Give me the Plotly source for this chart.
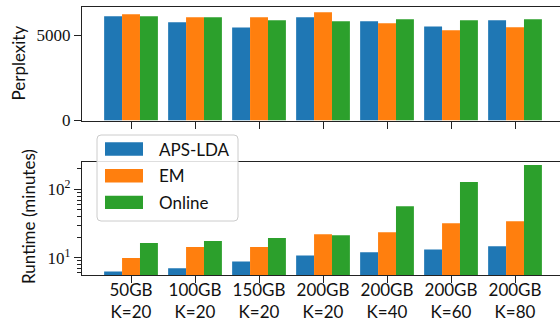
import plotly.graph_objects as go

categories = ["50GB<br>K=20", "100GB<br>K=20", "150GB<br>K=20", "200GB<br>K=20",
              "200GB<br>K=40", "200GB<br>K=60", "200GB<br>K=80"]
series_names = ["APS-LDA", "EM", "Online"]
perplexity_aps = [6120, 5770, 5460, 6070, 5830, 5530, 5890]
perplexity_em = [6240, 6070, 6070, 6360, 5710, 5300, 5480]
perplexity_online = [6120, 6070, 5890, 5830, 5950, 5890, 5950]
runtime_aps = [6.3, 7.0, 8.8, 10.8, 12.0, 13.2, 14.7]
runtime_em = [9.9, 14.3, 14.3, 22.0, 23.6, 31.9, 34.2]
runtime_online = [16.4, 17.5, 19.4, 21.3, 56.8, 128, 228]
colors = ["#1f77b4", "#ff7f0e", "#2ca02c"]

W, H = 560, 324
ML, MR, MT, MB = 82, 0, 7, 49
PW, PH = W - ML - MR, H - MT - MB

def px_x(p):
    return (p - ML) / PW

def px_y(p):
    return (H - MB - p) / PH

SANS = "Lato"
SERIF = "Liberation Serif"
FS = 17
xs = list(range(len(categories)))

fig = go.Figure()
for name, vals, c in zip(series_names, [perplexity_aps, perplexity_em, perplexity_online], colors):
    fig.add_trace(go.Bar(x=xs, y=vals, name=name, marker=dict(color=c, line=dict(width=0)),
                         xaxis="x", yaxis="y", showlegend=False))
for name, vals, c in zip(series_names, [runtime_aps, runtime_em, runtime_online], colors):
    fig.add_trace(go.Bar(x=xs, y=vals, name=name, marker=dict(color=c, line=dict(width=0)),
                         xaxis="x2", yaxis="y2", showlegend=False))

xr = [-0.766, -0.766 + PW / 64.0]
axis_common = dict(showline=True, linecolor="#222", linewidth=1.3, ticks="outside",
                   ticklen=7, tickwidth=1.2, tickcolor="#222", showgrid=False, zeroline=False,
                   automargin=False)

fig.update_layout(
    width=W, height=H, margin=dict(l=ML, r=MR, t=MT, b=MB, autoexpand=False),
    paper_bgcolor="white", plot_bgcolor="white",
    barmode="group", bargap=0.16, bargroupgap=0,
    font=dict(family=SANS, size=FS, color="#111"),
    xaxis=dict(domain=[0, 1], range=xr, anchor="y", tickvals=xs, showticklabels=False,
               mirror=True, **axis_common),
    yaxis=dict(domain=[px_y(120.5), 1.0], range=[0, 6670], anchor="x",
               tickvals=[0, 5000], ticktext=["0", "5000"],
               tickfont=dict(family=SERIF, size=17, color="#111"), **axis_common),
    xaxis2=dict(domain=[0, 1], range=xr, anchor="y2", tickvals=xs, ticktext=categories,
                mirror=True, ticklabelstandoff=-8,
                tickfont=dict(family=SANS, size=FS, color="#111"), **axis_common),
    yaxis2=dict(domain=[0, px_y(161.7)], type="log", range=[0.747, 2.406], anchor="x2",
                tickvals=[10, 100], ticktext=["10<sup>1</sup>", "10<sup>2</sup>"],
                tickfont=dict(family=SERIF, size=17, color="#111"),
                minor=dict(tickvals=[6, 7, 8, 9, 20, 30, 40, 50, 60, 70, 80, 90, 200],
                           ticks="outside", ticklen=3.5, tickwidth=0.9, tickcolor="#222",
                           showgrid=False),
                **axis_common),
)

# axis titles
fig.add_annotation(text="Perplexity", xref="paper", yref="paper", x=px_x(18), y=px_y(63.5),
                   textangle=-90, showarrow=False, xanchor="center", yanchor="middle",
                   font=dict(family=SANS, size=FS, color="#111"))
fig.add_annotation(text="Runtime (minutes)", xref="paper", yref="paper", x=px_x(28), y=px_y(217),
                   textangle=-90, showarrow=False, xanchor="center", yanchor="middle",
                   font=dict(family=SANS, size=FS, color="#111"))

# custom legend
x0, x1, y0, y1 = px_x(97), px_x(238), px_y(135), px_y(221)
rx, ry = 4 / PW, 4 / PH
path = (f"M{x0+rx},{y0} L{x1-rx},{y0} Q{x1},{y0} {x1},{y0-ry} "
        f"L{x1},{y1+ry} Q{x1},{y1} {x1-rx},{y1} L{x0+rx},{y1} Q{x0},{y1} {x0},{y1+ry} "
        f"L{x0},{y0-ry} Q{x0},{y0} {x0+rx},{y0} Z")
fig.add_shape(type="path", path=path, xref="paper", yref="paper", layer="above",
              fillcolor="rgba(255,255,255,0.85)", line=dict(color="#cccccc", width=1))
for i, (name, c) in enumerate(zip(series_names, colors)):
    cy = 149 + i * 26.7
    fig.add_shape(type="rect", xref="paper", yref="paper", layer="above",
                  x0=px_x(105), x1=px_x(143), y0=px_y(cy - 6.7), y1=px_y(cy + 6.7),
                  fillcolor=c, line=dict(width=0))
    fig.add_annotation(text=name, xref="paper", yref="paper", x=px_x(157), y=px_y(cy),
                       xanchor="left", yanchor="middle", showarrow=False,
                       font=dict(family=SANS, size=FS, color="#111"))

fig.write_html("out.html", config={"displayModeBar": False},
               post_script="document.body.style.margin='0';document.body.style.padding='0';"
                           "document.documentElement.style.overflow='hidden';")
